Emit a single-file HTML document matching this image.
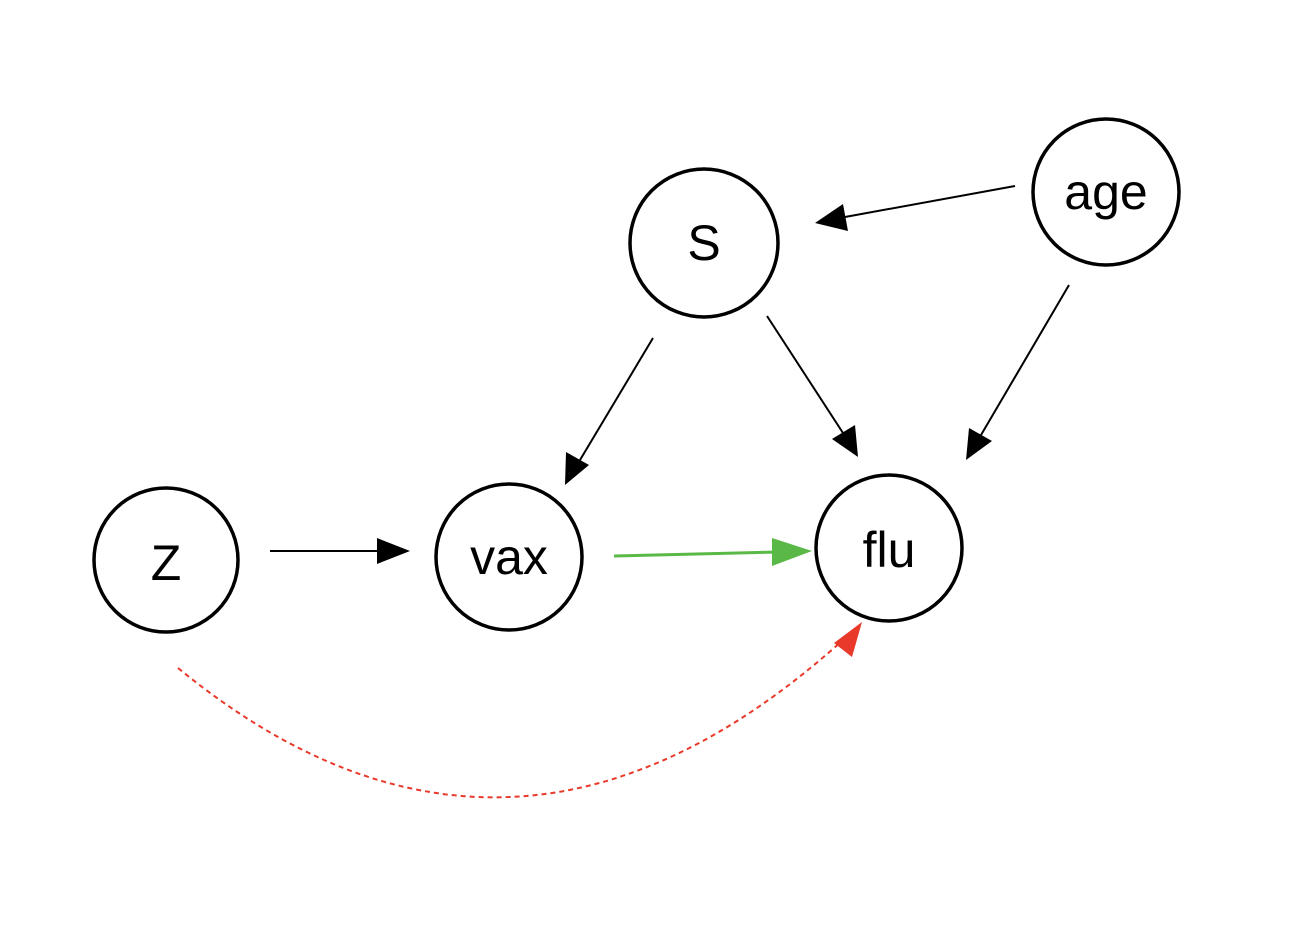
<!DOCTYPE html>
<html><head><meta charset="utf-8"><style>
html,body{margin:0;padding:0;background:#fff;}
svg{display:block;}
text{font-family:"Liberation Sans",sans-serif;font-size:50px;fill:#000;text-anchor:middle;dominant-baseline:central;}
</style></head><body>
<svg width="1308" height="941" viewBox="0 0 1308 941" xmlns="http://www.w3.org/2000/svg">
<g fill="none" stroke="#000" stroke-width="3.5">
<circle cx="166" cy="560" r="72"/>
<circle cx="509" cy="557" r="73"/>
<circle cx="889" cy="548" r="73"/>
<circle cx="704" cy="243" r="74"/>
<circle cx="1106" cy="192" r="73"/>
</g>
<text x="166" y="563">Z</text>
<text x="509" y="557">vax</text>
<text x="889" y="550">flu</text>
<text x="704" y="243">S</text>
<text x="1106" y="192">age</text>
<g stroke="#000" stroke-width="2">
<line x1="270" y1="551" x2="380" y2="551"/>
<line x1="653" y1="338" x2="580" y2="460"/>
<line x1="767" y1="316" x2="843" y2="433"/>
<line x1="1015" y1="186" x2="845" y2="217"/>
<line x1="1069" y1="285" x2="981" y2="435"/>
</g>
<g fill="#000">
<polygon points="410,551 377,538 377,564"/>
<polygon points="565,485 566,452 589,465"/>
<polygon points="858,457 832,439 855,425"/>
<polygon points="815,223 843,204 848,231"/>
<polygon points="966,460 969,428 992,441"/>
</g>
<line x1="614" y1="556" x2="780" y2="552" stroke="#5ab946" stroke-width="3"/>
<polygon points="812,551 772,538 772,566" fill="#5ab946"/>
<path d="M178,668 Q510,940 843,640" fill="none" stroke="#e8392a" stroke-width="2" stroke-dasharray="5,4"/>
<polygon points="862,622 834,643 852,657" fill="#e8392a"/>
</svg>
</body></html>
